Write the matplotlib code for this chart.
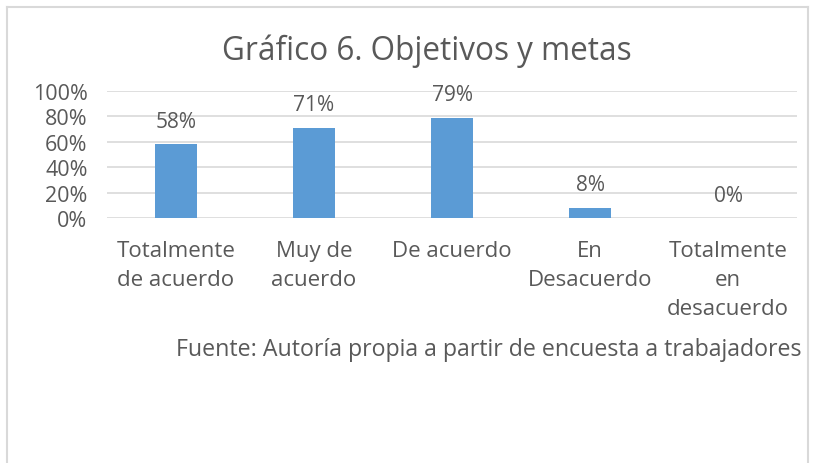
import matplotlib
matplotlib.use("Agg")
import matplotlib.pyplot as plt
from matplotlib.lines import Line2D

categories = ["Totalmente\nde acuerdo", "Muy de\nacuerdo", "De acuerdo", "En\nDesacuerdo", "Totalmente\nen\ndesacuerdo"]
values = [58, 71, 79, 8, 0]
yticks = [0, 20, 40, 60, 80, 100]
title = "Gráfico 6. Objetivos y metas"
source = "Fuente: Autoría propia a partir de encuesta a trabajadores"

W, H = 813, 464
plt.rcParams['font.family'] = ['Open Sans', 'DejaVu Sans']
fig = plt.figure(figsize=(W/100, H/100), dpi=100)
txt = '#595959'

def px(x, y):
    return x / W, 1 - y / H

# chart border
for (x0, y0, x1, y1) in [(7, 8, 808, 8), (7, 8, 7, 464), (808, 8, 808, 464)]:
    a, b = px(x0, y0); c, d = px(x1, y1)
    fig.add_artist(Line2D([a, c], [b, d], color='#D9D9D9', lw=1.5, transform=fig.transFigure))

l, t = px(107, 92)
r, bot = px(797, 219)
ax = fig.add_axes([l, bot, r - l, t - bot])
x = range(len(categories))
bars = ax.bar(x, values, width=0.31, color='#5B9BD5', zorder=3)
ax.set_xlim(-0.5, len(categories) - 0.5)
ax.set_ylim(0, 100)
ax.set_yticks(yticks)
ax.set_yticklabels([f"{v}%" for v in yticks], color=txt, fontsize=15.5)
ax.tick_params(axis='y', length=0, pad=14)
ax.tick_params(axis='x', length=0, pad=15.5)
ax.set_xticks(list(x))
ax.set_xticklabels(categories, color=txt, fontsize=16, linespacing=1.5)
ax.grid(axis='y', color='#D9D9D9', lw=1.2, zorder=0)
for s in ax.spines.values():
    s.set_visible(False)
for xi, v in zip(x, values):
    ax.annotate(f"{v}%", (xi, v), xytext=(0, 9), textcoords='offset points',
                ha='center', va='bottom', fontsize=15, color=txt)

fx, fy = px(427, 51)
fig.text(fx, fy, title, ha='center', va='center', fontsize=22.7, color=txt)
sx, sy = px(801, 350)
fig.text(sx, sy, source, ha='right', va='center', fontsize=16.7, color=txt)

fig.savefig("out.png", dpi=100)
